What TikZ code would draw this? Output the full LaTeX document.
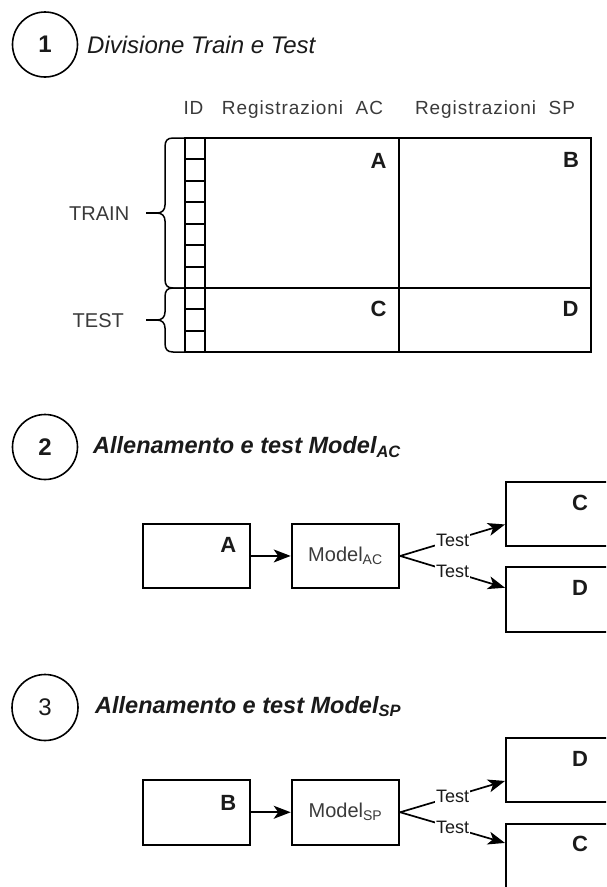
\documentclass[tikz,border=0pt]{standalone}
\usepackage{fontspec}
\setmainfont{Liberation Sans}
\newfontfamily\hdrfont[LetterSpace=5]{Liberation Sans}
\usetikzlibrary{arrows.meta,calc}
\definecolor{txt}{HTML}{3A3A3A}
\definecolor{ttl}{HTML}{1A1A1A}
\newcommand{\fsz}[1]{\fontsize{#1}{#1}\selectfont}
\begin{document}
\begin{tikzpicture}[x=1pt,y=-1pt,
  ln/.style={line width=1.9pt, line cap=rect},
  br/.style={line width=1.5pt},
  numcirc/.style={circle, draw, line width=1.6pt, inner sep=0pt, text=ttl},
  ttlnode/.style={anchor=base west, inner sep=0pt, text=ttl},
  hdr/.style={anchor=base, inner sep=0pt, text=txt, font=\hdrfont\fsz{19}},
  side/.style={anchor=base, inner sep=0pt, text=txt, font=\fsz{20}},
  lett/.style={anchor=base, inner sep=0pt, text=ttl, font=\fsz{22}\bfseries},
  boxnode/.style={draw, line width=1.9pt, minimum width=107.6pt, minimum height=64.6pt, inner sep=0pt, anchor=north west, text=txt, font=\fsz{20}},
  arr/.style={line width=1.7pt, -{Stealth[length=17pt, width=13pt, inset=4.5pt]}},
  tlab/.style={fill=white, inner sep=1pt, text=ttl, font=\fsz{18}}
]
\useasboundingbox (0,0) rectangle (606,887);
\clip (0,0) rectangle (606,887);
\fill[white] (0,0) rectangle (606,887);

% ---------- Section 1 ----------
\node[numcirc, minimum size=65pt] (c1) at (45,44.5) {\fsz{24}\bfseries 1};
\node[ttlnode] (t1) at (87,53.3) {\fsz{24}\itshape Divisione Train e Test};

\node[hdr] (hid) at (193.5,114.3) {ID};
\node[hdr] (hac) at (302.5,114.3) {Registrazioni~~AC};
\node[hdr] (hsp) at (495,114.3) {Registrazioni~~SP};

% table
\draw[ln] (185,138) rectangle (591,352);
\draw[ln] (205,138) -- (205,352);
\draw[ln] (399,138) -- (399,352);
\draw[ln] (185,288) -- (591,288);
\foreach \i in {1,...,6} \draw[ln] (185,{138+\i*21.43}) -- (205,{138+\i*21.43});
\foreach \i in {1,2} \draw[ln] (185,{288+\i*21.33}) -- (205,{288+\i*21.33});

\node[lett] (lA) at (378.5,168) {A};
\node[lett] (lB) at (571,167.5) {B};
\node[lett] (lC) at (378.5,316.5) {C};
\node[lett] (lD) at (570.5,316.7) {D};

% braces
\draw[br] (185,138) -- (173,138) .. controls (167,138) and (165,141) .. (165,147)
  -- (165,205) .. controls (165,210) and (162,213) .. (157,213)
  .. controls (162,213) and (165,216) .. (165,221)
  -- (165,279) .. controls (165,285) and (167,288) .. (173,288) -- (185,288);
\draw[br] (185,288) -- (173,288) .. controls (167,288) and (165,291) .. (165,297)
  -- (165,312) .. controls (165,317) and (162,320) .. (157,320)
  .. controls (162,320) and (165,323) .. (165,328)
  -- (165,343) .. controls (165,349) and (167,352) .. (173,352) -- (185,352);
\draw[br] (146,213) -- (157,213);
\draw[br] (146,320) -- (157,320);
\node[side] (train) at (99.2,220.7) {TRAIN};
\node[side] (test) at (98.3,327.7) {TEST};

% ---------- Section 2 ----------
\node[numcirc, minimum size=65pt] (c2) at (45,447) {\fsz{24}\bfseries 2};
\node[ttlnode] (t2) at (93,453.3) {\fsz{23.5}\bfseries\itshape Allenamento e test Model\textsubscript{AC}};

\node[boxnode] (A2) at (141.7,522.7) {};
\node[lett] (lA2) at (228.3,552.7) {A};
\node[boxnode] (M2) at (290.7,522.7) {Model\textsubscript{AC}};
\node[boxnode, minimum width=130pt] (C2) at (505,480.7) {};
\node[lett] (lC2) at (580,510) {C};
\node[boxnode, minimum width=130pt] (D2) at (505,566) {};
\node[lett] (lD2) at (580,595) {D};

\draw[arr] (A2) -- (M2);
\draw[arr] (M2.east) -- node[tlab] {Test} ($(C2.west)+(0,10.5)$);
\draw[arr] (M2.east) -- node[tlab] {Test} ($(D2.west)+(0,-11.5)$);

% ---------- Section 3 ----------
\node[numcirc, minimum size=66pt] (c3) at (45,707.5) {\fsz{24}3};
\node[ttlnode] (t3) at (95,713) {\fsz{23.5}\bfseries\itshape Allenamento e test Model\textsubscript{SP}};

\node[boxnode] (B3) at (141.7,779) {};
\node[lett] (lB3) at (228.3,810) {B};
\node[boxnode] (M3) at (290.7,779) {Model\textsubscript{SP}};
\node[boxnode, minimum width=130pt] (D3) at (505,736.7) {};
\node[lett] (lD3) at (580,766) {D};
\node[boxnode, minimum width=130pt] (C3) at (505,822.7) {};
\node[lett] (lC3) at (580,851.7) {C};

\draw[arr] (B3) -- (M3);
\draw[arr] (M3.east) -- node[tlab] {Test} ($(D3.west)+(0,11)$);
\draw[arr] (M3.east) -- node[tlab] {Test} ($(C3.west)+(0,-13)$);
\end{tikzpicture}
\end{document}
